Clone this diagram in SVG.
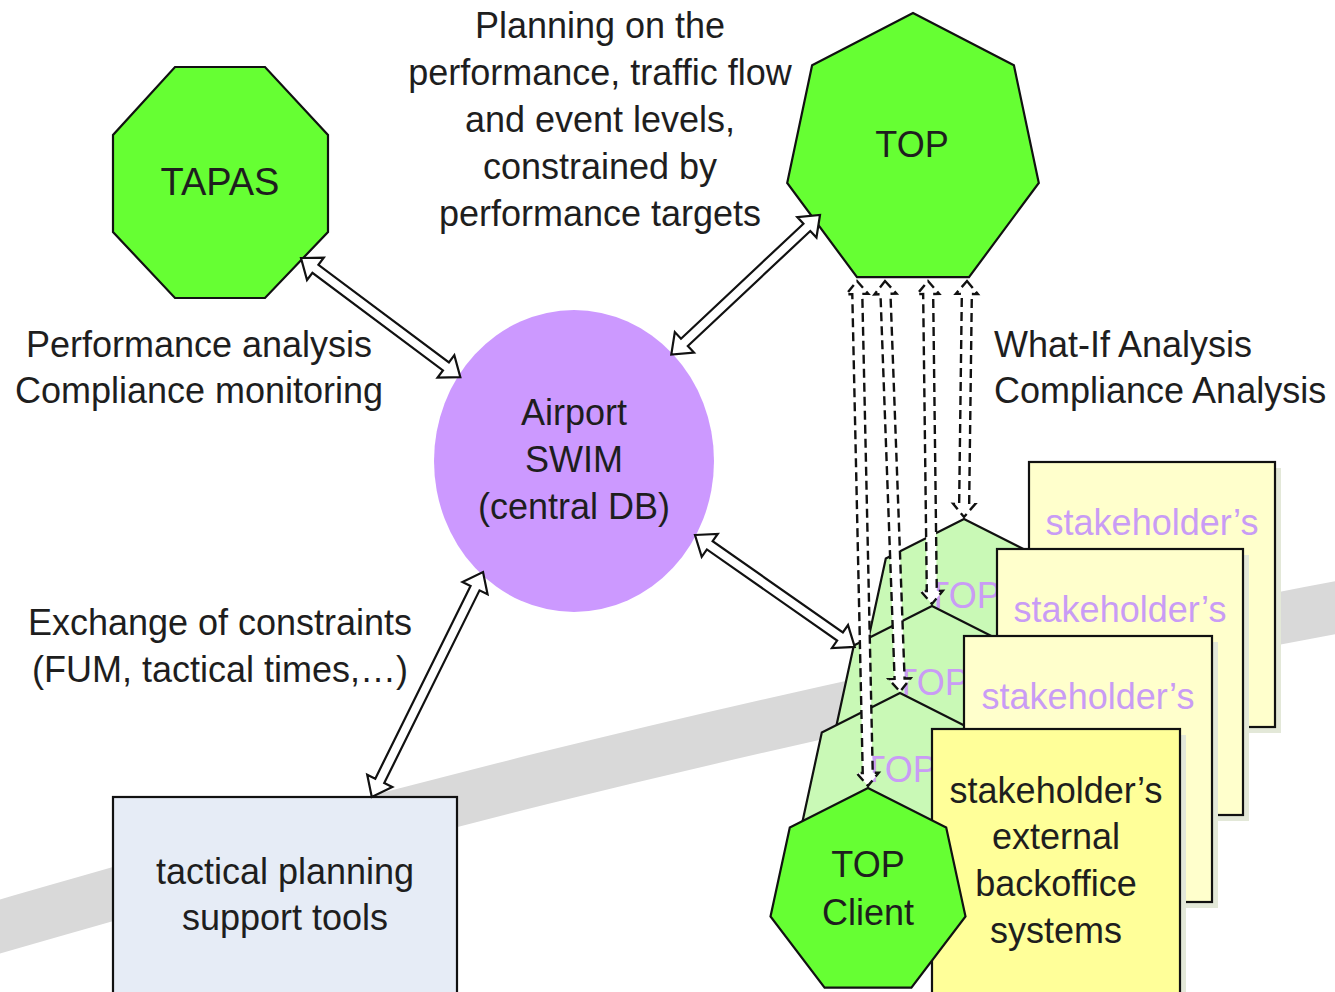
<svg xmlns="http://www.w3.org/2000/svg" width="1335" height="992" viewBox="0 0 1335 992">
  <style>
    .lbl { font-family: "Liberation Sans", Arial, sans-serif; font-size: 36px; fill: #1e1e1e; }
    .mid { text-anchor: middle; }
    .ghost { font-family: "Liberation Sans", Arial, sans-serif; font-size: 36px; fill: #c99cf5; text-anchor: middle; }
    .edge { stroke: #111; stroke-width: 2.2; stroke-linejoin: miter; }
    .green { fill: #66ff33; }
    .pale { fill: #c9f9b6; }
    .note { fill: #ffffcc; }
    .shadow { fill: #e3e8d8; }
    .block { fill: #ffffff; stroke: #111; stroke-width: 2.2; stroke-linejoin: miter; }
    .dash { fill: #ffffff; stroke: #111; stroke-width: 2.4; stroke-dasharray: 9 5; }
  </style>

  <rect width="1335" height="992" fill="#ffffff"/>

  <!-- background band -->
  <path d="M -30 935 C 200 870, 600 745, 1350 605" fill="none" stroke="#d9d9d9" stroke-width="52"/>

  <g id="tapas">
    <polygon class="green edge" points="175,67 265,67 328,135 328,232 265,298 175,298 113,232 113,135"/>
    <text class="lbl mid" x="220" y="195" style="font-size:38px">TAPAS</text>
  </g>

  <g id="top">
    <polygon class="green edge" points="913,13 1013.9,65.3 1038.8,182.9 969,277.2 857,277.2 787.2,182.9 812.1,65.3"/>
    <text class="lbl mid" x="912" y="157">TOP</text>
  </g>

  <g id="swim">
    <ellipse cx="574" cy="461" rx="140" ry="151" fill="#cc99ff"/>
    <text class="lbl mid" x="574" y="425">Airport</text>
    <text class="lbl mid" x="574" y="472">SWIM</text>
    <text class="lbl mid" x="574" y="519">(central DB)</text>
  </g>

  <g id="tactical-tools">
    <rect x="113" y="797" width="344" height="215" fill="#e6ecf6" class="edge"/>
    <text class="lbl mid" x="285" y="884">tactical planning</text>
    <text class="lbl mid" x="285" y="930">support tools</text>
  </g>

  <!-- stacked client copies behind the front one -->
  <g id="top-client-copy-1">
    <polygon class="pale edge" points="964,519 1042.2,558.5 1061.5,647.4 1007.4,718.6 920.6,718.6 866.5,647.4 885.8,558.5"/>
    <text class="ghost" x="964" y="608">TOP</text>
  </g>
  <g id="top-client-copy-2">
    <polygon class="pale edge" points="932,606 1010.2,645.5 1029.5,734.4 975.4,805.6 888.6,805.6 834.5,734.4 853.8,645.5"/>
    <text class="ghost" x="932" y="695">TOP</text>
  </g>
  <g id="top-client-copy-3">
    <polygon class="pale edge" points="900,693 978.2,732.5 997.5,821.4 943.4,892.6 856.6,892.6 802.5,821.4 821.8,732.5"/>
    <text class="ghost" x="900" y="782">TOP</text>
  </g>

  <g id="stakeholder-1">
    <rect class="shadow" x="1035" y="468" width="246" height="265"/>
    <rect class="note edge" x="1029" y="462" width="246" height="265"/>
    <text class="ghost" x="1152" y="535">stakeholder’s</text>
  </g>
  <g id="stakeholder-2">
    <rect class="shadow" x="1003" y="555" width="246" height="266"/>
    <rect class="note edge" x="997" y="549" width="246" height="266"/>
    <text class="ghost" x="1120" y="622">stakeholder’s</text>
  </g>
  <g id="stakeholder-3">
    <rect class="shadow" x="970" y="642" width="248" height="266"/>
    <rect class="note edge" x="964" y="636" width="248" height="266"/>
    <text class="ghost" x="1088" y="709">stakeholder’s</text>
  </g>
  <g id="stakeholder-backoffice">
    <rect class="shadow" x="938" y="735" width="248" height="280"/>
    <rect class="edge" fill="#ffff99" x="932" y="729" width="248" height="280"/>
    <text class="lbl mid" x="1056" y="803">stakeholder’s</text>
    <text class="lbl mid" x="1056" y="849">external</text>
    <text class="lbl mid" x="1056" y="896">backoffice</text>
    <text class="lbl mid" x="1056" y="943">systems</text>
  </g>

  <g id="top-client">
    <polygon class="green edge" points="868,788 946.2,827.5 965.5,916.4 911.4,987.6 824.6,987.6 770.5,916.4 789.8,827.5"/>
    <text class="lbl mid" x="868" y="877">TOP</text>
    <text class="lbl mid" x="868" y="925">Client</text>
  </g>

  <g id="connectors">
    <!-- solid double-headed block arrows -->
    <polygon class="block" transform="translate(301,258) rotate(36.8)" points="0,0 18,-14 18,-5 181,-5 181,-14 199,0 181,14 181,5 18,5 18,14"/>
    <polygon class="block" transform="translate(820,215) rotate(136.8)" points="0,0 18,-14 18,-5 186,-5 186,-14 204,0 186,14 186,5 18,5 18,14"/>
    <polygon class="block" transform="translate(483,572) rotate(116.3)" points="0,0 18,-14 18,-5 233,-5 233,-14 251,0 233,14 233,5 18,5 18,14"/>
    <polygon class="block" transform="translate(695,535) rotate(35)" points="0,0 18,-14 18,-5 177,-5 177,-14 195,0 177,14 177,5 18,5 18,14"/>
    <!-- dashed double-headed arrows from TOP to each client -->
    <polygon class="dash" transform="translate(857,281) rotate(88.75)" points="0,0 13,-11 13,-5 492,-5 492,-11 505,0 492,11 492,5 13,5 13,11"/>
    <polygon class="dash" transform="translate(885,281) rotate(87.9)" points="0,0 13,-11 13,-5 398,-5 398,-11 411,0 398,11 398,5 13,5 13,11"/>
    <polygon class="dash" transform="translate(928,281) rotate(89.3)" points="0,0 13,-11 13,-5 310,-5 310,-11 323,0 310,11 310,5 13,5 13,11"/>
    <polygon class="dash" transform="translate(967,281) rotate(90.73)" points="0,0 13,-11 13,-5 223,-5 223,-11 236,0 223,11 223,5 13,5 13,11"/>
  </g>

  <g id="labels">
    <text class="lbl mid" x="600" y="38">Planning on the</text>
    <text class="lbl mid" x="600" y="85">performance, traffic flow</text>
    <text class="lbl mid" x="600" y="132">and event levels,</text>
    <text class="lbl mid" x="600" y="179">constrained by</text>
    <text class="lbl mid" x="600" y="226">performance targets</text>
    <text class="lbl mid" x="199" y="357">Performance analysis</text>
    <text class="lbl mid" x="199" y="403">Compliance monitoring</text>
    <text class="lbl" x="994" y="357">What-If Analysis</text>
    <text class="lbl" x="994" y="403">Compliance Analysis</text>
    <text class="lbl mid" x="220" y="635">Exchange of constraints</text>
    <text class="lbl mid" x="220" y="682">(FUM, tactical times,…)</text>
  </g>
</svg>
